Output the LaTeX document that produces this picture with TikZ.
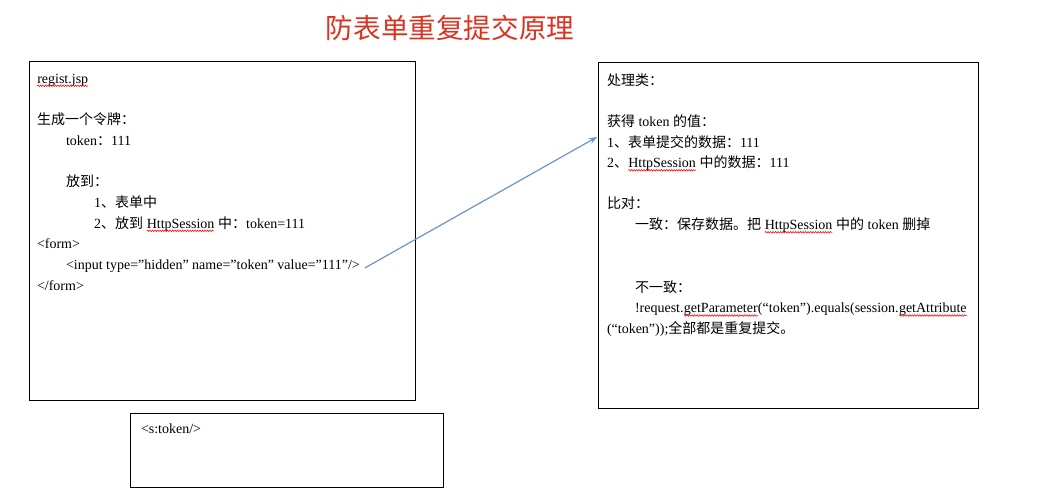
\documentclass[tikz,border=0pt]{standalone}
\usepackage{fontspec}
\setmainfont{Liberation Serif}
\newfontfamily\cjk{Noto Sans CJK SC}
\usetikzlibrary{arrows.meta,decorations.pathmorphing}
\definecolor{titlered}{HTML}{DC3220}
\definecolor{arrowblue}{HTML}{6F93C4}
\newcommand\C[1]{{\cjk #1}}
\newcommand\redwave[1]{\tikz[baseline=(w.base)]{\node[inner sep=0pt,outer sep=0pt,anchor=base west] (w) at (0,0) {#1};
  \draw[red, line width=0.55pt, decorate, decoration={snake, amplitude=0.8pt, segment length=2.5pt}] ([yshift=-2.8pt]w.base west) -- ([yshift=-2.8pt]w.base east);}}
\begin{document}
\begin{tikzpicture}[x=1pt,y=-1pt,
  every node/.style={inner sep=0pt, outer sep=0pt},
  txt/.style={anchor=base west, font=\fontsize{14}{16}\selectfont},
  box/.style={draw, line width=1pt, anchor=north west},
  link/.style={draw=arrowblue, line width=1.2pt, -{Stealth[length=8pt,width=6pt]}}]
\useasboundingbox (0,0) rectangle (1046,495);

\node[font=\cjk\fontsize{27.6}{30}\selectfont, text=titlered] (title) at (450,28) {防表单重复提交原理};

% boxes
\node[box, minimum width=386pt, minimum height=338pt] (left) at (29,62) {};
\node[box, minimum width=380pt, minimum height=345pt] (right) at (598,63) {};
\node[box, minimum width=313pt, minimum height=74pt] (bottom) at (130,413) {};

% left box text
\node[txt] (l1) at (37,83) {\redwave{regist.jsp}};
\node[txt] (l2) at (37,124.4) {\C{生成一个令牌：}};
\node[txt] (l3) at (66,145) {token\C{：}111};
\node[txt] (l4) at (66,186.5) {\C{放到：}};
\node[txt] (l5) at (94,207.2) {1\C{、表单中}};
\node[txt] (l6) at (94,228) {2\C{、放到} \redwave{HttpSession} \C{中：}token=111};
\node[txt] (l7) at (37,248.6) {<form>};
\node[txt] (inp) at (66,269.3) {<input type=”hidden” name=”token” value=”111”/>};
\node[txt] (l9) at (37,290) {</form>};

% right box text
\node[txt] (r1) at (607,85) {\C{处理类：}};
\node[txt] (r2) at (607,126) {\C{获得} token \C{的值：}};
\node[txt] (r3) at (607,147) {1\C{、表单提交的数据：}111};
\node[txt] (r4) at (607,167.5) {2\C{、}\redwave{HttpSession} \C{中的数据：}111};
\node[txt] (r5) at (607,208.5) {\C{比对：}};
\node[txt] (r6) at (635,229.5) {\C{一致：保存数据。把} \redwave{HttpSession} \C{中的} token \C{删掉}};
\node[txt] (r7) at (635,292) {\C{不一致：}};
\node[txt] (r8) at (635,312.7) {!request.\redwave{getParameter}(“token”).equals(session.\redwave{getAttribute}};
\node[txt] (r9) at (607,333.4) {(“token”));\C{全部都是重复提交。}};

% bottom box text
\node[txt] (b1) at (141,433) {<s:token/>};

% arrow
\coordinate (arrowend) at (597,137);
\draw[link] ([shift={(5,2)}]inp.east) -- (arrowend);
\end{tikzpicture}
\end{document}
